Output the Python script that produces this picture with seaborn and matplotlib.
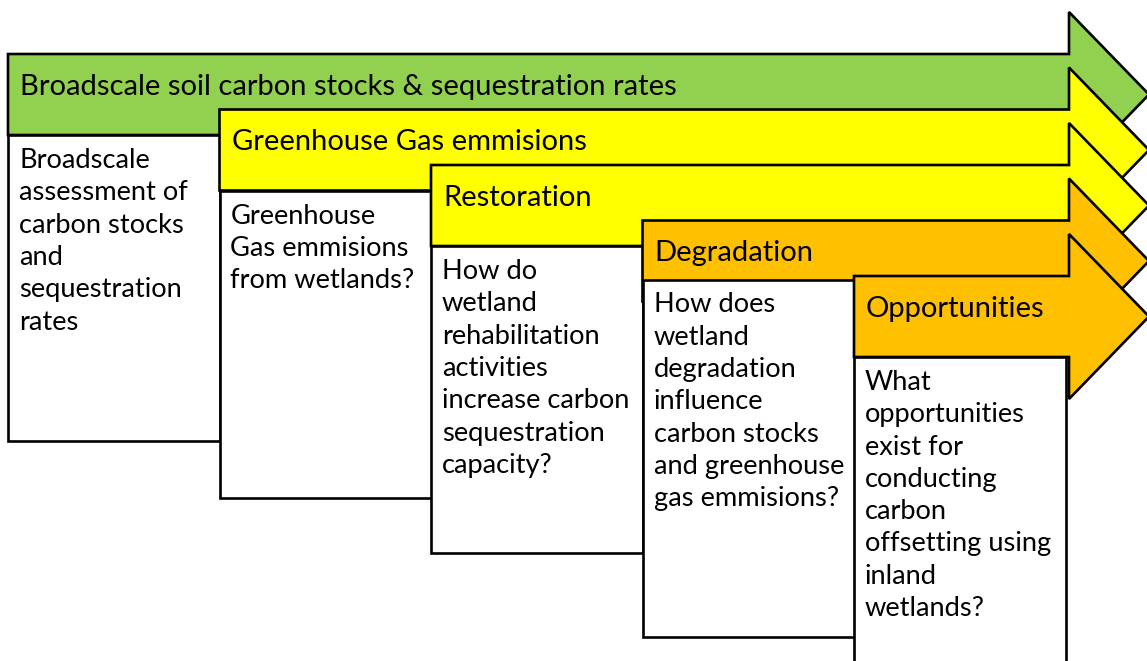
"""Staged research-question arrows for wetland soil carbon work."""

import matplotlib.pyplot as plt
import seaborn as sns
from matplotlib.patches import Polygon, Rectangle

# stage headers, the question under each one, and the fill of each arrow
stage_titles = [
    "Broadscale soil carbon stocks & sequestration rates",
    "Greenhouse Gas emmisions",
    "Restoration",
    "Degradation",
    "Opportunities",
]
stage_questions = [
    ["Broadscale", "assessment of", "carbon stocks", "and", "sequestration", "rates"],
    ["Greenhouse", "Gas emmisions", "from wetlands?"],
    ["How do", "wetland", "rehabilitation", "activities", "increase carbon",
     "sequestration", "capacity?"],
    ["How does", "wetland", "degradation", "influence", "carbon stocks",
     "and greenhouse", "gas emmisions?"],
    ["What", "opportunities", "exist for", "conducting", "carbon",
     "offsetting using", "inland", "wetlands?"],
]
stage_colors = ["#92D050", "#FFFF00", "#FFFF00", "#FFC000", "#FFC000"]

# layout in pixels of the 1147x661 canvas (y grows downward)
W, H = 1147, 661
LEFT0, TOP0 = 8, 54
STEP_X, STEP_Y = 211.5, 55.5
BODY_H = 81
SHAFT_END, TIP_X, HEAD_OVER = 1069, 1149, 42
BOX_W = 212
header_heights = [81, 81, 81, 59, 81]
box_heights = [306, 307, 307, 357, 400]
LINE_GAP = 32.3
TITLE_SIZE, BODY_SIZE = 21, 19.6
EDGE = "black"
LW = 1.9

sns.set_theme(style="white")
plt.rcParams["font.family"] = ["Lato", "DejaVu Sans"]

fig = plt.figure(figsize=(W / 100, H / 100), dpi=100)
ax = fig.add_axes([0, 0, 1, 1])
ax.set_xlim(0, W)
ax.set_ylim(H, 0)
ax.axis("off")

for i, (title, lines, color) in enumerate(zip(stage_titles, stage_questions, stage_colors)):
    left = LEFT0 + i * STEP_X
    top = TOP0 + i * STEP_Y
    bottom = top + BODY_H
    mid = (top + bottom) / 2
    arrow = Polygon(
        [
            (left, top),
            (SHAFT_END, top),
            (SHAFT_END, top - HEAD_OVER),
            (TIP_X, mid),
            (SHAFT_END, bottom + HEAD_OVER),
            (SHAFT_END, bottom),
            (left, bottom),
        ],
        closed=True,
        facecolor=color,
        edgecolor=EDGE,
        linewidth=LW,
        joinstyle="miter",
        zorder=2 * i,
    )
    ax.add_patch(arrow)
    ax.text(left + 12, top + 41, title, fontsize=TITLE_SIZE, color="black",
            va="baseline", ha="left", zorder=2 * i + 1)

    box_top = top + header_heights[i]
    box = Rectangle((left, box_top), BOX_W, box_heights[i], facecolor="white",
                    edgecolor=EDGE, linewidth=LW, zorder=2 * i + 1)
    ax.add_patch(box)
    for j, line in enumerate(lines):
        ax.text(left + 11, box_top + 33 + j * LINE_GAP, line, fontsize=BODY_SIZE,
                color="black", va="baseline", ha="left", zorder=2 * i + 1.5)

fig.savefig("out.png", dpi=100, facecolor="white")
